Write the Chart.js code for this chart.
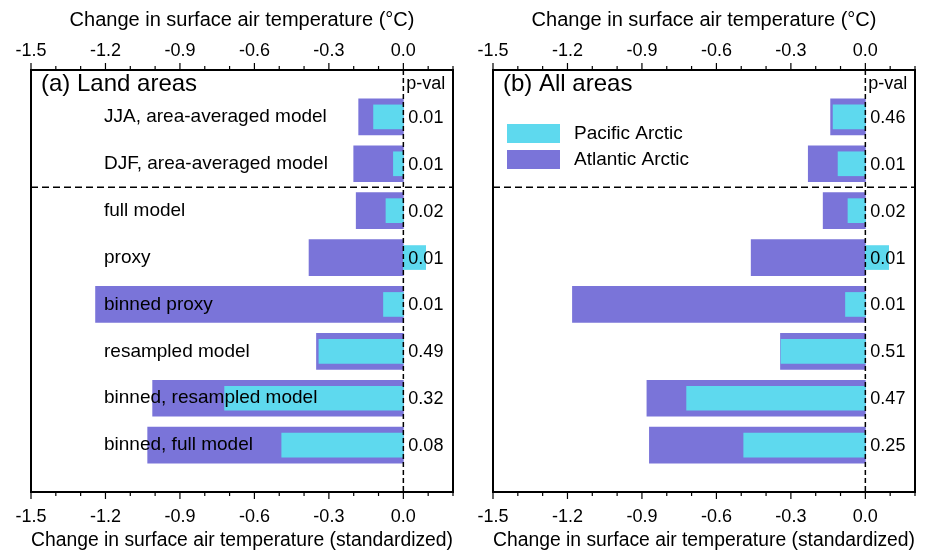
<!DOCTYPE html>
<html>
<head>
<meta charset="utf-8">
<script src="https://cdn.jsdelivr.net/npm/chart.js@4/dist/chart.umd.min.js"></script>
<style>
    body { margin: 0; background: #fff; }
    #wrap { position: relative; width: 932px; height: 556px; }
    canvas { position: absolute; top: 0; }
</style>
</head>
<body>
<div id="wrap">
    <canvas id="left" width="468" height="556" style="left:0"></canvas>
    <canvas id="right" width="470" height="556" style="left:462px"></canvas>
</div>
<script>
// rows, top to bottom
const categories = ['JJA, area-averaged model', 'DJF, area-averaged model', 'full model', 'proxy',
    'binned proxy', 'resampled model', 'binned, resampled model', 'binned, full model'];

const landAtlantic = [-0.18, -0.20, -0.19, -0.38, -1.24, -0.35, -1.01, -1.03];
const landPacific = [-0.12, -0.04, -0.07, 0.09, -0.08, -0.34, -0.72, -0.49];
const landPval = ['0.01', '0.01', '0.02', '0.01', '0.01', '0.49', '0.32', '0.08'];

const allAtlantic = [-0.14, -0.23, -0.17, -0.46, -1.18, -0.342, -0.88, -0.87];
const allPacific = [-0.13, -0.11, -0.07, 0.094, -0.08, -0.34, -0.72, -0.49];
const allPval = ['0.46', '0.01', '0.02', '0.01', '0.01', '0.51', '0.47', '0.25'];

const xTicks = [-1.5, -1.2, -0.9, -0.6, -0.3, 0.0];

const PURPLE = '#7a74d9';
const CYAN = '#5ed9ee';
const FONT = "'Liberation Sans', Arial, Helvetica, sans-serif";

// one empty slot above and below the rows
const slots = [''].concat(categories, ['']);
const pad = arr => [null].concat(arr, [null]);

const panelDecor = {
    id: 'panelDecor',
    afterDatasetsDraw(chart, args, opts) {
        const c = chart.ctx;
        const a = chart.chartArea;
        const x = chart.scales.x;
        const y = chart.scales.y;
        const zero = x.getPixelForValue(0);
        c.save();

        // dashed separator between area-averaged rows and the rest
        const ySep = (y.getPixelForValue(2) + y.getPixelForValue(3)) / 2;
        c.strokeStyle = '#000';
        c.lineWidth = 1.5;
        c.setLineDash([7, 4]);
        c.beginPath();
        c.moveTo(a.left, ySep);
        c.lineTo(a.right, ySep);
        c.stroke();

        // dashed zero line
        c.setLineDash([5, 3]);
        c.beginPath();
        c.moveTo(zero, a.top);
        c.lineTo(zero, a.bottom);
        c.stroke();
        c.setLineDash([]);

        // frame
        c.lineWidth = 2;
        c.strokeRect(a.left, a.top, a.right - a.left, a.bottom - a.top);

        // tick marks, top and bottom
        c.lineWidth = 1.2;
        x.ticks.forEach(t => {
            const px = x.getPixelForValue(t.value);
            const k = Math.round(t.value * 10);
            const major = xTicks.some(v => Math.round(v * 10) === k);
            const len = major ? 7 : 4;
            c.beginPath();
            c.moveTo(px, a.top);
            c.lineTo(px, a.top - len);
            c.moveTo(px, a.bottom);
            c.lineTo(px, a.bottom + len);
            c.stroke();
        });

        c.fillStyle = '#000';
        c.textBaseline = 'middle';
        c.textAlign = 'left';

        // panel title and p-value header
        c.font = '24px ' + FONT;
        c.fillText(opts.title, a.left + 10, a.top + 14);
        c.font = '18px ' + FONT;
        c.fillText('p-val', zero + 3, a.top + 14);

        // row labels and p-values
        categories.forEach((cat, i) => {
            const py = y.getPixelForValue(i + 1);
            if (opts.showLabels) {
                c.font = '19px ' + FONT;
                c.fillText(cat, a.left + 73, py);
            }
            c.font = '18px ' + FONT;
            c.fillText(opts.pvals[i], zero + 5, py + 1);
        });

        // legend
        if (opts.legend) {
            const ds = chart.data.datasets;
            ds.forEach((d, i) => {
                const top = a.top + 54 + i * 26;
                c.fillStyle = d.backgroundColor;
                c.fillRect(a.left + 14, top, 53, 19);
                c.fillStyle = '#000';
                c.font = '19px ' + FONT;
                c.fillText(d.label, a.left + 81, top + 10);
            });
        }
        c.restore();
    }
};

function makePanel(id, atlantic, pacific, pvals, title, showLabels, legend, rightPad) {
    const axisBase = {
        type: 'linear',
        min: -1.5,
        max: 0.2,
        grid: { display: false, drawTicks: false },
        border: { display: false },
        ticks: {
            stepSize: 0.1,
            autoSkip: false,
            maxRotation: 0,
            color: '#000',
            font: { family: FONT, size: 18 },
            callback: v => {
                const k = Math.round(v * 10);
                return xTicks.some(t => Math.round(t * 10) === k) ? (k / 10).toFixed(1) : '';
            }
        }
    };
    new Chart(document.getElementById(id), {
        type: 'bar',
        data: {
            labels: slots,
            datasets: [
                {
                    label: 'Pacific Arctic',
                    data: pad(pacific),
                    backgroundColor: CYAN,
                    barThickness: 24,
                    grouped: false,
                    order: 0
                },
                {
                    label: 'Atlantic Arctic',
                    data: pad(atlantic),
                    backgroundColor: PURPLE,
                    barThickness: 36,
                    grouped: false,
                    order: 1
                }
            ]
        },
        options: {
            indexAxis: 'y',
            responsive: false,
            animation: false,
            layout: { padding: { left: 31, right: rightPad, top: 0, bottom: 0 } },
            plugins: {
                legend: { display: false },
                tooltip: { enabled: false },
                panelDecor: { title: title, pvals: pvals, showLabels: showLabels, legend: legend }
            },
            scales: {
                y: {
                    type: 'category',
                    offset: false,
                    display: false
                },
                x: Object.assign({}, axisBase, {
                    position: 'bottom',
                    ticks: Object.assign({}, axisBase.ticks, { padding: 14 }),
                    title: {
                        display: true,
                        text: 'Change in surface air temperature (standardized)',
                        color: '#000',
                        font: { family: FONT, size: 20 },
                        padding: { top: 0, bottom: 4 }
                    },
                    afterFit: s => { s.height = 64; }
                }),
                x2: Object.assign({}, axisBase, {
                    position: 'top',
                    ticks: Object.assign({}, axisBase.ticks, { padding: 8 }),
                    title: {
                        display: true,
                        text: 'Change in surface air temperature (°C)',
                        color: '#000',
                        font: { family: FONT, size: 20 },
                        padding: { top: 8, bottom: 0 }
                    },
                    afterFit: s => { s.height = 70; }
                })
            }
        },
        plugins: [panelDecor]
    });
}

makePanel('left', landAtlantic, landPacific, landPval, '(a) Land areas', true, false, 15);
makePanel('right', allAtlantic, allPacific, allPval, '(b) All areas', false, true, 17);
</script>
</body>
</html>
